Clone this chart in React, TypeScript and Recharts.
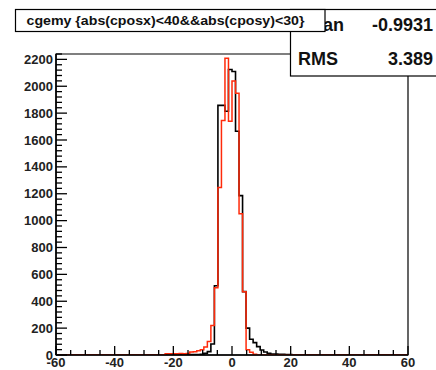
import React from "react";
import { ComposedChart, Line, XAxis, YAxis, ReferenceArea } from "recharts";

// lower bin edges (100 bins of 1.2 over -60..60, only the filled part)
const binLow = [
  -24, -22.8, -21.6, -20.4, -19.2, -18, -16.8, -15.6, -14.4, -13.2, -12, -10.8, -9.6,
  -8.4, -7.2, -6, -4.8, -3.6, -2.4, -1.2, 0, 1.2, 2.4, 3.6, 4.8, 6, 7.2, 8.4, 9.6,
  10.8, 12, 13.2, 14.4, 15.6, 16.8, 18, 19.2, 20.4,
];
const blackCounts = [
  0, 0, 0, 0, 0, 1, 2, 2, 3, 3, 4, 6, 12,
  25, 82, 515, 1858, 1858, 1814, 2125, 2110, 1665, 1186, 472, 200, 117, 92, 62, 37,
  22, 12, 8, 8, 6, 5, 4, 3, 0,
];
const redCounts = [
  0, 10, 10, 10, 10, 12, 10, 12, 22, 25, 32, 40, 60,
  100, 220, 500, 1246, 1745, 2209, 1740, 2039, 1947, 1052, 470, 40, 20, 5, 0, 0,
  0, 0, 0, 0, 0, 0, 0, 0, 0,
];

const xTicks = [-60, -55, -50, -45, -40, -35, -30, -25, -20, -15, -10, -5, 0, 5, 10, 15, 20, 25, 30, 35, 40, 45, 50, 55, 60];
const xLabels = [-60, -40, -20, 0, 20, 40, 60];
const yLabels = [0, 200, 400, 600, 800, 1000, 1200, 1400, 1600, 1800, 2000, 2200];
const yMax = 2240;
const yTicks = Array.from({ length: yMax / 40 + 1 }, (_, i) => i * 40);

const histData = [
  { x: -60, black: 0, red: 0 },
  ...binLow.map((x, i) => ({ x, black: blackCounts[i], red: redCounts[i] })),
  { x: 21.6, black: 0, red: 0 },
  { x: 60, black: 0, red: 0 },
];

const font = "'Liberation Sans', Arial, sans-serif";

const YTick = (props: any) => {
  const { x, y, payload } = props;
  const v = payload.value;
  const major = yLabels.includes(v);
  return (
    <g>
      <line x1={x} x2={x + (major ? 11 : 6)} y1={y} y2={y} stroke="#000" strokeWidth={1.3} />
      {major && (
        <text x={x - 3} y={y} dy={4.5} textAnchor="end" fontFamily={font} fontWeight="bold" fontSize={13} fill="#222">
          {v}
        </text>
      )}
    </g>
  );
};

const XTick = (props: any) => {
  const { x, y, payload } = props;
  const v = payload.value;
  const major = xLabels.includes(v);
  return (
    <g>
      <line x1={x} x2={x} y1={y} y2={y - (major ? 9 : 5)} stroke="#000" strokeWidth={1.3} />
      {major && (
        <text x={x} y={y + 11.5} textAnchor="middle" fontFamily={font} fontWeight="bold" fontSize={13} fill="#222">
          {v}
        </text>
      )}
    </g>
  );
};

export default function App() {
  return (
    <div style={{ position: "absolute", left: 0, top: 0, width: 436, height: 370, background: "#fff" }}>
      <ComposedChart width={436} height={370} data={histData} margin={{ top: 54, right: 28, bottom: 0, left: 0 }}>
        <XAxis
          dataKey="x"
          type="number"
          domain={[-60, 60]}
          ticks={xTicks}
          interval={0}
          allowDataOverflow
          height={15}
          tickSize={0}
          tickMargin={0}
          tick={<XTick />}
          axisLine={{ stroke: "#000", strokeWidth: 1.5 }}
          tickLine={false}
        />
        <YAxis
          type="number"
          domain={[0, yMax]}
          ticks={yTicks}
          interval={0}
          allowDataOverflow
          width={56}
          tickSize={0}
          tickMargin={0}
          tick={<YTick />}
          axisLine={{ stroke: "#000", strokeWidth: 1.5 }}
          tickLine={false}
        />
        <ReferenceArea x1={-60} x2={60} y1={0} y2={yMax} fill="none" stroke="#000" strokeWidth={1.2} ifOverflow="visible" />
        <Line type="stepAfter" dataKey="black" stroke="#000" strokeWidth={1.6} dot={false} isAnimationActive={false} />
        <Line type="stepAfter" dataKey="red" stroke="#ff2a0a" strokeWidth={1.5} dot={false} isAnimationActive={false} />
      </ComposedChart>
      <svg width={436} height={370} style={{ position: "absolute", left: 0, top: 0, pointerEvents: "none" }}>
        <rect x={290.5} y={9.5} width={160} height={66.5} fill="#fff" stroke="#000" strokeWidth={1.2} />
        <text x={298} y={30.5} fontFamily={font} fontWeight="bold" fontSize={18} fill="#111">Mean</text>
        <text x={433} y={30.5} textAnchor="end" fontFamily={font} fontWeight="bold" fontSize={18} fill="#111">-0.9931</text>
        <text x={298} y={65} fontFamily={font} fontWeight="bold" fontSize={18} fill="#111">RMS</text>
        <text x={433} y={65} textAnchor="end" fontFamily={font} fontWeight="bold" fontSize={18} fill="#111">3.389</text>
        <rect x={15.5} y={9.5} width={309.5} height={22} fill="#fff" stroke="#000" strokeWidth={1.2} />
        <text x={26.5} y={24.5} fontFamily={font} fontWeight="bold" fontSize={13.5} fill="#111" textLength={278} lengthAdjust="spacingAndGlyphs">
          {"cgemy {abs(cposx)<40&&abs(cposy)<30}"}
        </text>
      </svg>
    </div>
  );
}
